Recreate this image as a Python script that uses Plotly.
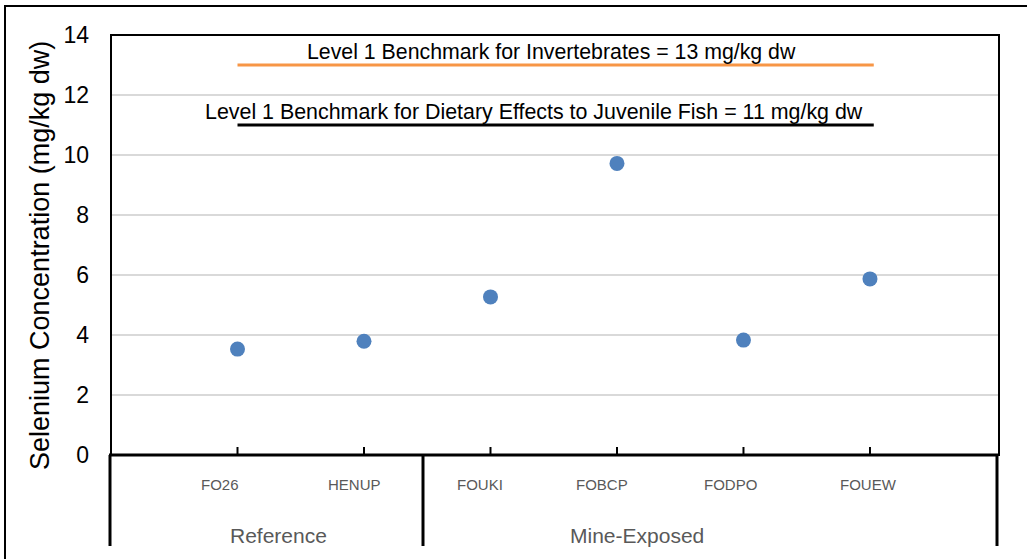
import plotly.graph_objects as go

# ---- data ----
sites = ["FO26", "HENUP", "FOUKI", "FOBCP", "FODPO", "FOUEW"]
selenium = [3.53, 3.79, 5.27, 9.72, 3.83, 5.87]
groups = ["Reference", "Mine-Exposed"]
bench_invert = 13
bench_fish = 11
bench_invert_label = "Level 1 Benchmark for Invertebrates = 13 mg/kg dw"
bench_fish_label = "Level 1 Benchmark for Dietary Effects to Juvenile Fish = 11 mg/kg dw"
y_ticks = [0, 2, 4, 6, 8, 10, 12, 14]

FONT = "Liberation Sans, Arial, sans-serif"
idx = list(range(len(sites)))

fig = go.Figure()
fig.add_trace(go.Scatter(x=[0, len(sites) - 1 + 0.03], y=[bench_invert, bench_invert], mode="lines",
                         line=dict(color="#F79646", width=3), hoverinfo="skip"))
fig.add_trace(go.Scatter(x=[0, len(sites) - 1 + 0.03], y=[bench_fish, bench_fish], mode="lines",
                         line=dict(color="#000000", width=3), hoverinfo="skip"))
fig.add_trace(go.Scatter(x=idx, y=selenium, mode="markers",
                         marker=dict(color="#4F81BD", size=15)))

W, H = 1027, 559
L, R, T, B = 111, 28, 35, 104
PW, PH = W - L - R, H - T - B


def px(xpix):
    return (xpix - L) / PW


def py(ypix):
    return (H - B - ypix) / PH


shapes = []
# outer chart border
shapes.append(dict(type="rect", xref="paper", yref="paper", x0=px(5), x1=px(1040), y0=py(575), y1=py(6),
                   line=dict(color="#000000", width=2), fillcolor="rgba(0,0,0,0)"))
# plot area border
shapes.append(dict(type="rect", xref="paper", yref="paper", x0=0, x1=1, y0=0, y1=1,
                   line=dict(color="#000000", width=2)))
# axis line
shapes.append(dict(type="line", xref="paper", yref="paper", x0=px(109), x1=px(998), y0=0, y1=0,
                   line=dict(color="#000000", width=3)))
# table verticals
for xv in [110, 423, 997]:
    shapes.append(dict(type="line", xref="paper", yref="paper", x0=px(xv), x1=px(xv), y0=0, y1=py(546),
                       line=dict(color="#000000", width=3)))
# small inside ticks at each category
for i in idx:
    shapes.append(dict(type="line", xref="x", yref="paper", x0=i, x1=i, y0=0, y1=py(447),
                       line=dict(color="#000000", width=2)))

annotations = []
label_shift = [-18, -9, -10, -15, -13, -1]
for i, s in enumerate(sites):
    annotations.append(dict(x=i, xref="x", y=py(484), yref="paper", text=s, showarrow=False,
                            xshift=label_shift[i], xanchor="center", yanchor="middle",
                            font=dict(family=FONT, size=15, color="#595959")))
group_x = [278, 637]
for g, gx in zip(groups, group_x):
    annotations.append(dict(x=px(gx), xref="paper", y=py(535), yref="paper", text=g, showarrow=False,
                            xanchor="center", yanchor="middle",
                            font=dict(family=FONT, size=21, color="#595959")))
annotations.append(dict(x=px(551), xref="paper", y=13.43, yref="y", text=bench_invert_label,
                        showarrow=False, xanchor="center", yanchor="middle",
                        font=dict(family=FONT, size=21.3, color="#000000")))
annotations.append(dict(x=px(534), xref="paper", y=11.45, yref="y", text=bench_fish_label,
                        showarrow=False, xanchor="center", yanchor="middle",
                        font=dict(family=FONT, size=21.4, color="#000000")))
annotations.append(dict(x=px(40), xref="paper", y=py(256), yref="paper",
                        text="Selenium Concentration (mg/kg dw)", textangle=-90, showarrow=False,
                        xanchor="center", yanchor="middle", font=dict(family=FONT, size=27, color="#000000")))

fig.update_layout(
    width=W, height=H,
    margin=dict(l=L, r=R, t=T, b=B, pad=0),
    paper_bgcolor="white", plot_bgcolor="white",
    showlegend=False,
    shapes=shapes, annotations=annotations,
    xaxis=dict(range=[-1.0, 6.02], tickmode="array", tickvals=idx, ticktext=[""] * len(sites),
               ticks="", showgrid=False, zeroline=False, showline=False),
    yaxis=dict(range=[0, 14], tickmode="array", tickvals=y_ticks,
               tickfont=dict(family=FONT, size=23, color="#000000"),
               showgrid=True, gridcolor="#d9d9d9", gridwidth=2,
               zeroline=False, showline=False, ticks="", ticklabelstandoff=21),
)

fig.write_html("out.html")
